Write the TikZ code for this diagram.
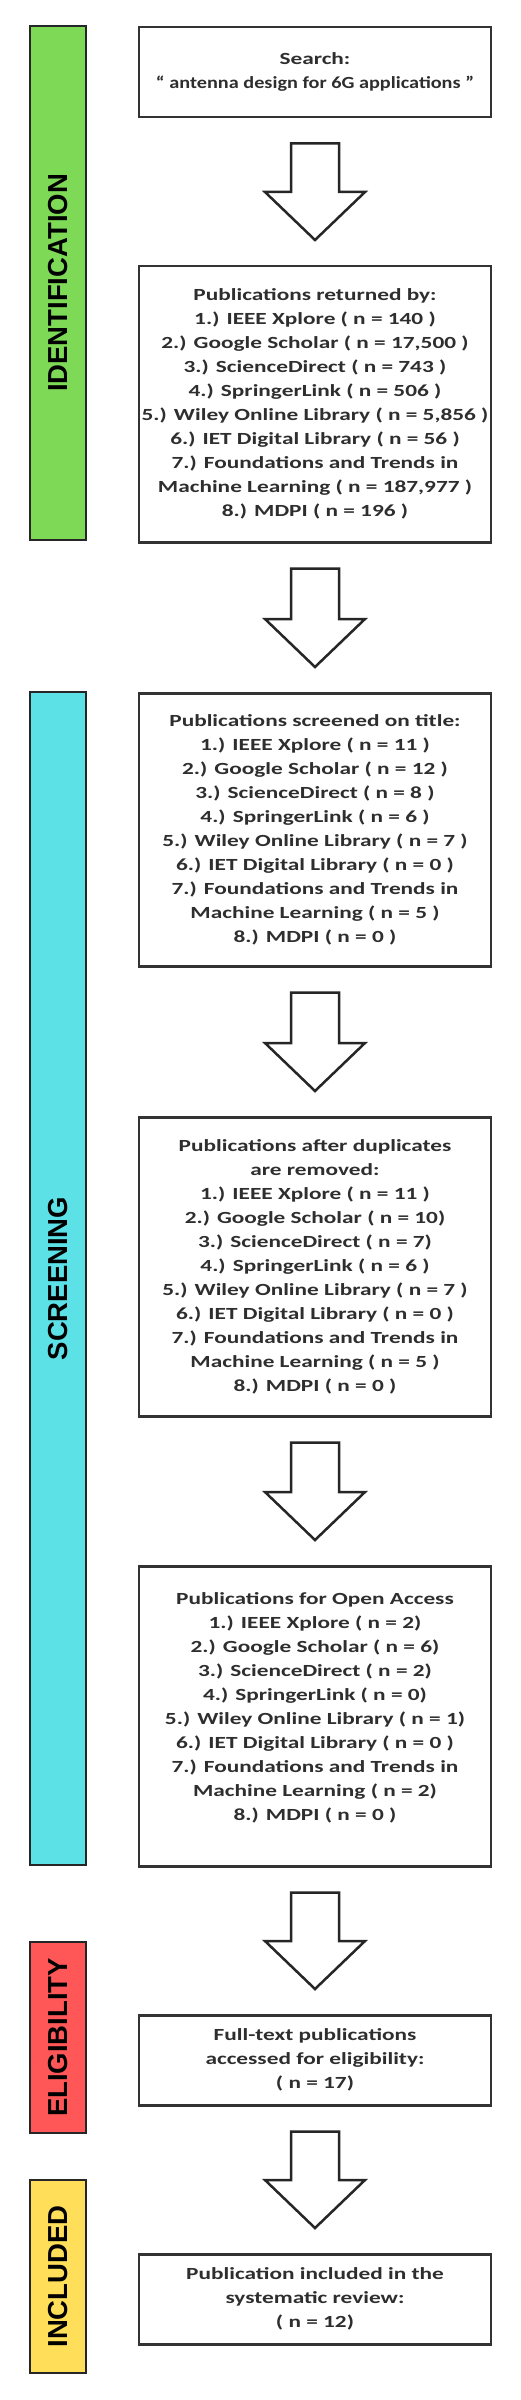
\documentclass[tikz,border=0pt]{standalone}
\usepackage{graphicx}
\usepackage{fontspec}
\setmainfont{Carlito}
\newfontfamily\boxfont[FakeStretch=1.37]{Carlito}
\newfontfamily\labelfont{Liberation Sans}
\usetikzlibrary{calc}
\definecolor{phgreen}{HTML}{7ED957}
\definecolor{phcyan}{HTML}{5CE1E6}
\definecolor{phred}{HTML}{FF5757}
\definecolor{phyellow}{HTML}{FFDE59}
\tikzset{
  pbox/.style={draw=black!80, line width=2.5pt, fill=white, minimum width=352pt,
    align=center, font=\boxfont\bfseries\fontsize{17}{24}\selectfont,
    text=black!82, anchor=north, inner sep=0pt},
  phase/.style={draw=black!85, line width=2.5pt, rotate=90, minimum height=56pt,
    inner sep=0pt, font=\labelfont\bfseries\fontsize{27.5}{30}\selectfont, text=black},
  blockarr/.style={draw=black!85, line width=2.5pt, fill=white, line join=miter},
}
\newcommand\blockarrow[2]{%
  \draw[blockarr] let \p1=(#1.south), \p2=(#2.north) in
    (\x1-24pt,\y1-25pt) -- (\x1+24pt,\y1-25pt) -- (\x1+24pt,\y2+73pt)
    -- (\x1+50pt,\y2+73pt) -- (\x1,\y2+25pt) -- (\x1-50pt,\y2+73pt)
    -- (\x1-24pt,\y2+73pt) -- cycle;}
\begin{document}
\begin{tikzpicture}[x=1pt,y=-1pt]
\useasboundingbox[fill=white] (0,0) rectangle (520,2400);
% phase bars
\node[phase, fill=phgreen, minimum width=514pt] (pid) at (58,283) {IDENTIFICATION};
\node[phase, fill=phcyan, minimum width=1173pt] (psc) at (58,1278.5) {SCREENING};
\node[phase, fill=phred, minimum width=191pt] (pel) at (58,2037.5) {ELIGIBILITY};
\node[phase, fill=phyellow, minimum width=193pt] (pin) at (58,2276.5) {INCLUDED};
% boxes
\node[pbox, minimum height=90pt] (b1) at (315,26) {Search:\\\resizebox{318pt}{\height}{“ antenna design for 6G applications ”}};
\node[pbox, minimum height=276pt] (b2) at (315,265) {Publications returned by:\\
1.) IEEE Xplore ( n = 140 )\\
2.) Google Scholar ( n = 17,500 )\\
3.) ScienceDirect ( n = 743 )\\
4.) SpringerLink ( n = 506 )\\
5.) Wiley Online Library ( n = 5,856 )\\
6.) IET Digital Library ( n = 56 )\\
7.) Foundations and Trends in\\
Machine Learning ( n = 187,977 )\\
8.) MDPI ( n = 196 )};
\node[pbox, minimum height=273pt] (b3) at (315,692) {Publications screened on title:\\
1.) IEEE Xplore ( n = 11 )\\
2.) Google Scholar ( n = 12 )\\
3.) ScienceDirect ( n = 8 )\\
4.) SpringerLink ( n = 6 )\\
5.) Wiley Online Library ( n = 7 )\\
6.) IET Digital Library ( n = 0 )\\
7.) Foundations and Trends in\\
Machine Learning ( n = 5 )\\
8.) MDPI ( n = 0 )};
\node[pbox, minimum height=299pt] (b4) at (315,1116) {Publications after duplicates\\
are removed:\\
1.) IEEE Xplore ( n = 11 )\\
2.) Google Scholar ( n = 10)\\
3.) ScienceDirect ( n = 7)\\
4.) SpringerLink ( n = 6 )\\
5.) Wiley Online Library ( n = 7 )\\
6.) IET Digital Library ( n = 0 )\\
7.) Foundations and Trends in\\
Machine Learning ( n = 5 )\\
8.) MDPI ( n = 0 )};
\node[pbox, minimum height=300pt] (b5) at (315,1565) {Publications for Open Access\\
1.) IEEE Xplore ( n = 2)\\
2.) Google Scholar ( n = 6)\\
3.) ScienceDirect ( n = 2)\\
4.) SpringerLink ( n = 0)\\
5.) Wiley Online Library ( n = 1)\\
6.) IET Digital Library ( n = 0 )\\
7.) Foundations and Trends in\\
Machine Learning ( n = 2)\\
8.) MDPI ( n = 0 )\\[-4pt]\mbox{}};
\node[pbox, minimum height=90pt] (b6) at (315,2014) {Full-text publications\\accessed for eligibility:\\( n = 17)};
\node[pbox, minimum height=90pt] (b7) at (315,2253) {Publication included in the\\systematic review:\\( n = 12)};
% block arrows
\blockarrow{b1}{b2}
\blockarrow{b2}{b3}
\blockarrow{b3}{b4}
\blockarrow{b4}{b5}
\blockarrow{b5}{b6}
\blockarrow{b6}{b7}
\end{tikzpicture}
\end{document}
